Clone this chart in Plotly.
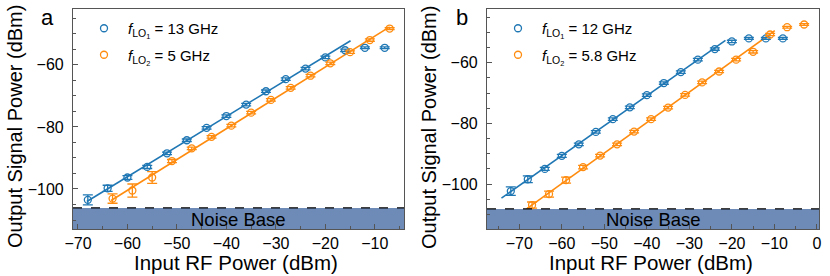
import numpy as np
import plotly.graph_objects as go

# ---------------- data ----------------
# Panel a
a_lo1_x = [-68, -64, -60, -56, -52, -48, -44, -40, -36, -32, -28, -24, -20, -16, -12, -8]
a_lo1_y = [-103.5, -99.8, -96.3, -92.9, -88.5, -84.3, -80.3, -76.5, -72.8, -68.5, -64.6, -61.2, -57.6, -55.3, -54.5, -54.5]
a_lo1_err = [1.6, 1.0, 0.6, 0.5, 0.4, 0.4, 0.4, 0.4, 0.4, 0.4, 0.4, 0.4, 0.4, 0.4, 0.3, 0.3]
a_lo2_x = [-63, -59, -55, -51, -47, -43, -39, -35, -31, -27, -23, -19, -15, -11, -7]
a_lo2_y = [-103.1, -100.5, -96.3, -91.0, -86.9, -83.2, -79.6, -75.4, -71.3, -67.4, -63.5, -59.5, -55.9, -52.0, -48.3]
a_lo2_err = [1.5, 2.1, 1.9, 0.5, 0.4, 0.4, 0.4, 0.4, 0.4, 0.4, 0.4, 0.4, 0.4, 0.4, 0.3]
a_fit1_n, a_fit1_range = 13, [-68.2, -14.9]
a_fit2_n, a_fit2_range = 15, [-63.3, -7.0]
a_noise = -106.1

# Panel b
b_lo1_x = [-72, -68, -64, -60, -56, -52, -48, -44, -40, -36, -32, -28, -24, -20, -16, -12, -8]
b_lo1_y = [-102.3, -98.4, -95.0, -90.7, -86.9, -82.8, -78.6, -74.7, -70.7, -66.7, -63.1, -59.0, -55.5, -53.0, -52.0, -52.0, -52.0]
b_lo1_err = [1.4, 1.1, 0.5, 0.5, 0.4, 0.4, 0.4, 0.4, 0.4, 0.4, 0.4, 0.4, 0.4, 0.4, 0.3, 0.3, 0.3]
b_lo2_x = [-67, -63, -59, -55, -51, -47, -43, -39, -35, -31, -27, -23, -19, -15, -11, -7, -3]
b_lo2_y = [-106.9, -103.3, -98.7, -94.4, -90.6, -86.9, -82.7, -78.6, -74.8, -70.6, -66.5, -62.9, -59.0, -56.4, -50.7, -48.3, -47.4]
b_lo2_err = [1.0, 1.0, 1.0, 0.6, 0.4, 0.4, 0.4, 0.4, 0.4, 0.4, 0.4, 0.4, 0.4, 0.4, 0.4, 0.3, 0.3]
b_fit1_n, b_fit1_range = 13, [-74.2, -21.5]
b_fit2_n, b_fit2_range = 12, [-68.3, -9.9]
b_noise = -108.2

x_ticks_a = [-70, -60, -50, -40, -30, -20, -10]
x_ticks_b = [-70, -60, -50, -40, -30, -20, -10, 0]
y_ticks = [-100, -80, -60]

labels_a = ["<i>f</i><sub>LO<sub>1</sub></sub> = 13 GHz", "<i>f</i><sub>LO<sub>2</sub></sub> = 5 GHz"]
labels_b = ["<i>f</i><sub>LO<sub>1</sub></sub> = 12 GHz", "<i>f</i><sub>LO<sub>2</sub></sub> = 5.8 GHz"]
x_title = "Input RF Power (dBm)"
y_title = "Output Signal Power (dBm)"

BLUE = "#1f77b4"
ORANGE = "#ff8c0f"
FONT = "Liberation Sans, Arial, sans-serif"
AX = "#555555"

W, H = 830, 276
xa_dom = [73 / W, 404 / W]
xb_dom = [487 / W, 819 / W]
y_dom = [1 - 229 / H, 1 - 9 / H]

fig = go.Figure()


def add_series(x, y, err, color, name, xaxis, yaxis, legend, group):
    fig.add_trace(go.Scatter(
        x=x, y=y, mode="markers", name=name, xaxis=xaxis, yaxis=yaxis, legend=legend,
        legendgroup=group,
        marker=dict(symbol="circle-open", size=7, color=color, line=dict(width=1.3, color=color)),
        error_y=dict(type="data", array=err, visible=True, color=color, thickness=1.3, width=5),
    ))


def add_fit(x, y, n, rng, color, xaxis, yaxis):
    p = np.polyfit(np.array(x[:n]), np.array(y[:n]), 1)
    fx = np.array(rng)
    fig.add_trace(go.Scatter(
        x=fx, y=np.polyval(p, fx), mode="lines", showlegend=False, xaxis=xaxis, yaxis=yaxis,
        line=dict(color=color, width=1.6), hoverinfo="skip",
    ))


add_fit(a_lo1_x, a_lo1_y, a_fit1_n, a_fit1_range, BLUE, "x", "y")
add_fit(a_lo2_x, a_lo2_y, a_fit2_n, a_fit2_range, ORANGE, "x", "y")
add_series(a_lo1_x, a_lo1_y, a_lo1_err, BLUE, labels_a[0], "x", "y", "legend", "a1")
add_series(a_lo2_x, a_lo2_y, a_lo2_err, ORANGE, labels_a[1], "x", "y", "legend", "a2")

add_fit(b_lo1_x, b_lo1_y, b_fit1_n, b_fit1_range, BLUE, "x2", "y2")
add_fit(b_lo2_x, b_lo2_y, b_fit2_n, b_fit2_range, ORANGE, "x2", "y2")
add_series(b_lo1_x, b_lo1_y, b_lo1_err, BLUE, labels_b[0], "x2", "y2", "legend2", "b1")
add_series(b_lo2_x, b_lo2_y, b_lo2_err, ORANGE, labels_b[1], "x2", "y2", "legend2", "b2")

axis_common = dict(
    showline=True, linecolor=AX, linewidth=1.2, mirror=True, automargin=False,
    ticks="inside", ticklen=5, tickwidth=1, tickcolor=AX,
    showgrid=False, zeroline=False,
    tickfont=dict(family=FONT, size=16, color="black"),
    minor=dict(ticks="inside", ticklen=3, tickwidth=1, tickcolor=AX, dtick=5),
)

legend_common = dict(xanchor="left", yanchor="top", bgcolor="rgba(0,0,0,0)",
                     font=dict(family=FONT, size=15), itemwidth=38, tracegroupgap=4)

fig.update_layout(
    template="none",
    width=W, height=H, margin=dict(l=0, r=0, t=0, b=0, autoexpand=False),
    paper_bgcolor="white", plot_bgcolor="white",
    font=dict(family=FONT, color="black"),
    xaxis=dict(domain=xa_dom, range=[-71, -4.1], tickvals=x_ticks_a, anchor="y", **axis_common),
    yaxis=dict(domain=y_dom, range=[-112.9, -42], tickvals=y_ticks, anchor="x",
               ticklabelstandoff=5, **axis_common),
    xaxis2=dict(domain=xb_dom, range=[-77.6, 0.5], tickvals=x_ticks_b, anchor="y2", **axis_common),
    yaxis2=dict(domain=y_dom, range=[-114.8, -42.3], tickvals=y_ticks, anchor="x2",
                ticklabelstandoff=5, **axis_common),
    legend=dict(x=80 / W, y=1 - 12 / H, **legend_common),
    legend2=dict(x=494 / W, y=1 - 12 / H, **legend_common),
)

for xr, yr, noise in [("x", "y", a_noise), ("x2", "y2", b_noise)]:
    fig.add_shape(type="rect", xref=xr + " domain", yref=yr, x0=0, x1=1, y0=-130, y1=noise,
                  fillcolor="#6d8bb6", line=dict(width=0), layer="below")
    fig.add_shape(type="line", xref=xr + " domain", yref=yr, x0=0, x1=1, y0=noise, y1=noise,
                  line=dict(color="black", width=1.3, dash="dash"), layer="above")

fig.add_annotation(xref="x domain", yref="y", x=0.5, y=-109.7, text="Noise Base", showarrow=False,
                   font=dict(size=18.5, family=FONT, color="black"))
fig.add_annotation(xref="x2 domain", yref="y2", x=0.5, y=-111.6, text="Noise Base", showarrow=False,
                   font=dict(size=18.5, family=FONT, color="black"))

# axis titles
for cx, dom in [(15, xa_dom), (429, xb_dom)]:
    fig.add_annotation(xref="paper", yref="paper", x=cx / W, y=1 - 127 / H, text=y_title,
                       textangle=-90, showarrow=False, xanchor="center", yanchor="middle",
                       font=dict(size=20, family=FONT, color="black"))
    fig.add_annotation(xref="paper", yref="paper", x=(dom[0] + dom[1]) / 2 - 2 / W, y=1 - 262 / H,
                       text=x_title, showarrow=False, xanchor="center", yanchor="middle",
                       font=dict(size=20.5, family=FONT, color="black"))

fig.add_annotation(xref="paper", yref="paper", x=47 / W, y=1 - 18 / H, text="a", showarrow=False,
                   xanchor="center", yanchor="middle", font=dict(size=22, family=FONT, color="black"))
fig.add_annotation(xref="paper", yref="paper", x=462 / W, y=1 - 18 / H, text="b", showarrow=False,
                   xanchor="center", yanchor="middle", font=dict(size=22, family=FONT, color="black"))

fig.write_html("out.html", config={"displayModeBar": False},
               post_script="document.body.style.margin='0';")
